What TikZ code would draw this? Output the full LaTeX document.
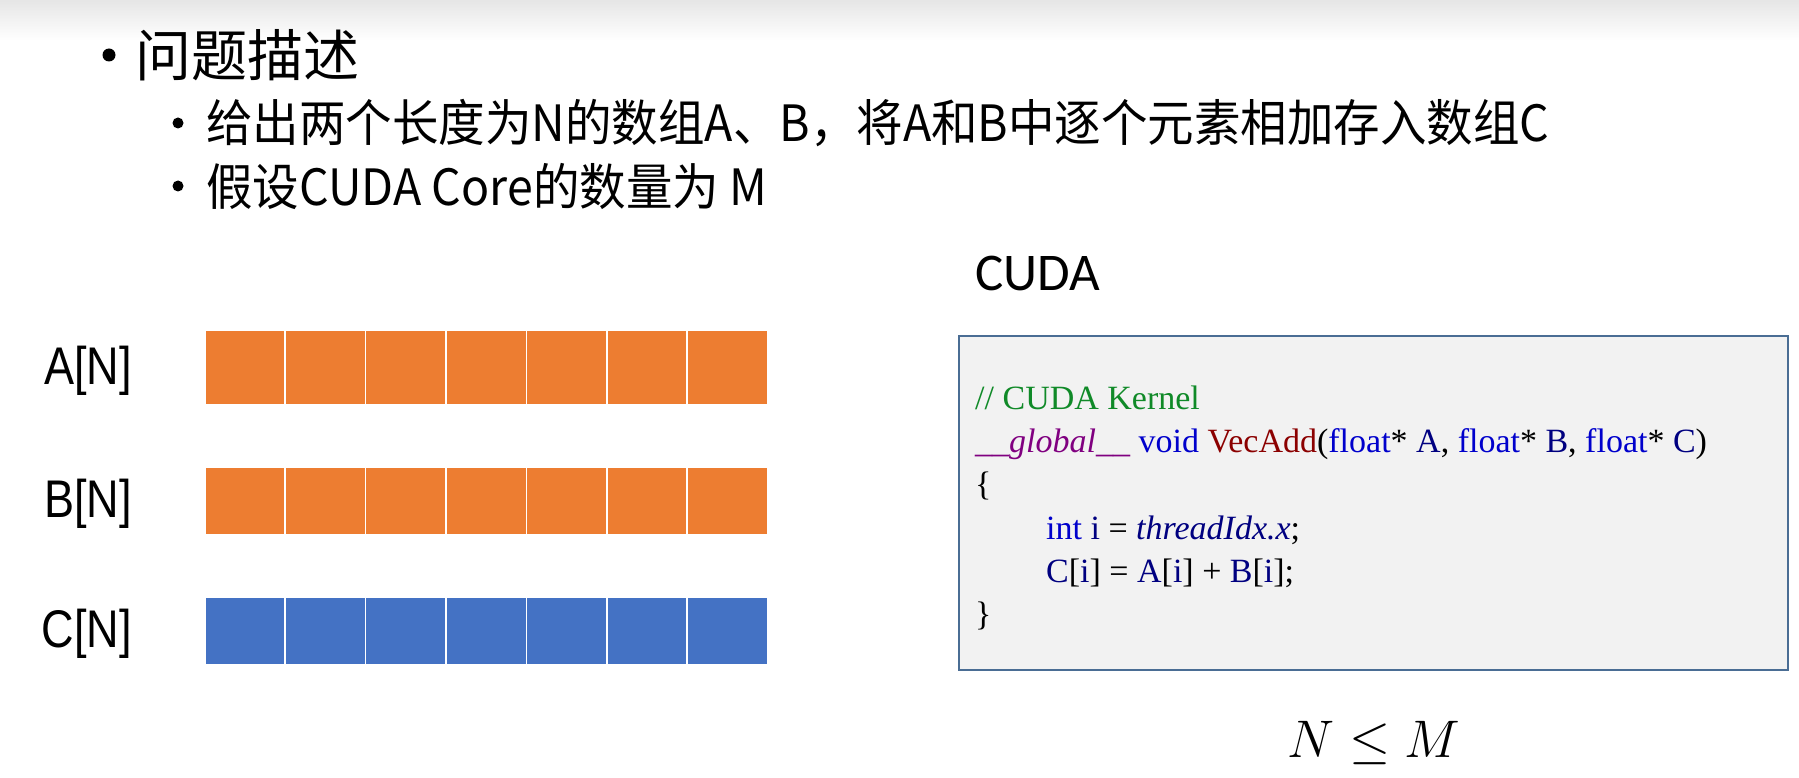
\documentclass[tikz,border=0pt]{standalone}
\usepackage{fontspec}
\setmainfont{Liberation Serif}
\newfontfamily\cjk{Noto Sans CJK SC}
\newfontfamily\cjkn[FakeStretch=0.93]{Noto Sans CJK SC}
\newfontfamily\arialc[FakeStretch=0.85]{Liberation Sans}
\newfontfamily\calibri{Carlito}
\newfontfamily\codef{Liberation Serif}
\usetikzlibrary{positioning}
\definecolor{cellorange}{HTML}{ED7D31}
\definecolor{cellblue}{HTML}{4472C4}
\definecolor{codebg}{HTML}{F2F2F2}
\definecolor{codeframe}{HTML}{4A6D94}
\definecolor{cmtgreen}{HTML}{108A28}
\definecolor{kwblue}{HTML}{0000CC}
\definecolor{fnred}{HTML}{8B0000}
\definecolor{idnavy}{HTML}{000080}
\definecolor{glpurple}{HTML}{800080}
\newcommand{\fs}[1]{\fontsize{#1}{#1}\selectfont}
\newcommand{\kw}[1]{{\color{kwblue}#1}}
\newcommand{\idn}[1]{{\color{idnavy}#1}}

\begin{document}
\begin{tikzpicture}[x=1pt,y=-1pt,inner sep=0pt]
  \tikzstyle{cell}=[draw=white, line width=1.5pt, minimum width=80.4pt, anchor=north west]
  \tikzstyle{arrlabel}=[font=\arialc\fs{53}, anchor=east]
  \tikzstyle{bul}=[circle, fill=black, anchor=center]
  \tikzstyle{item}=[font=\cjkn\fs{50}, anchor=west]
  \tikzstyle{code}=[font=\codef\fs{34}, anchor=base west]

  \useasboundingbox (0,0) rectangle (1799,778);
  \shade[top color=black!10, bottom color=white] (0,0) rectangle (1799,40);

  % bullets
  \node[bul, minimum size=13pt] (bul0) at (109,55) {};
  \node[item, font=\cjk\fs{56}] (title) at (135,55) {问题描述};
  \node[bul, minimum size=11pt] (bul1) at (178,123) {};
  \node[item] (item1) at (206,123) {给出两个长度为N的数组A、B，将A和B中逐个元素相加存入数组C};
  \node[bul, minimum size=11pt] (bul2) at (178,186) {};
  \node[item] (item2) at (206,186) {假设CUDA Core的数量为 M};

  % arrays
  \foreach \i in {0,...,6} {
    \node[cell, fill=cellorange, minimum height=75pt] (a\i) at (204+\i*80.4,329) {};
    \node[cell, fill=cellorange, minimum height=68pt] (b\i) at (204+\i*80.4,466) {};
    \node[cell, fill=cellblue, minimum height=68pt] (c\i) at (204+\i*80.4,596) {};
  }
  \node[arrlabel] (labA) at (132,371) {A[N]};
  \node[arrlabel] (labB) at (132,504) {B[N]};
  \node[arrlabel] (labC) at (132,634) {C[N]};

  % kernel
  \node[font=\calibri\fs{53}, anchor=west] (cuda) at (975,273) {CUDA};
  \node[draw=codeframe, line width=2pt, fill=codebg, anchor=north west,
        minimum width=829pt, minimum height=334pt] (box) at (958,335) {};
  \node[code] (l1) at (975,409) {\color{cmtgreen}// CUDA Kernel};
  \node[code] (l2) at (975,452) {{\color{glpurple}\itshape \_\_global\_\_} \kw{void} {\color{fnred}VecAdd}(\kw{float}* \idn{A}, \kw{float}* \idn{B}, \kw{float}* \idn{C})};
  \node[code] (l3) at (975,495) {\{};
  \node[code] (l4) at (1046,539) {\kw{int} \idn{i} = \idn{\itshape threadIdx.x};};
  \node[code] (l5) at (1046,582) {\idn{C}[\idn{i}] = \idn{A}[\idn{i}] + \idn{B}[\idn{i}];};
  \node[code] (l6) at (975,625) {\}};

  \node[font=\fs{20}, scale=2.55] (cond) at (1374,743) {$N \leq M$};
\end{tikzpicture}
\end{document}
